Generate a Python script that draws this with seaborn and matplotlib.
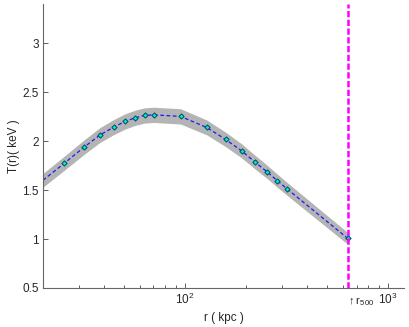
import numpy as np
import pandas as pd
import seaborn as sns
import matplotlib.pyplot as plt
from matplotlib.ticker import LogLocator, NullFormatter, FixedLocator

# radius (kpc) and temperature (keV)
r_kpc = [20.0, 25.4, 31.9, 38.1, 44.6, 50.8, 56.9, 63.3, 70.2, 95.2,
         127.9, 158.6, 190.8, 222.0, 253.5, 285.6, 318.4, 632.7]
t_kev = [1.60, 1.772, 1.939, 2.061, 2.143, 2.201, 2.238, 2.262, 2.268, 2.252,
         2.140, 2.017, 1.898, 1.783, 1.687, 1.594, 1.512, 1.007]
t_err = [0.07, 0.072, 0.074, 0.076, 0.077, 0.078, 0.078, 0.078, 0.078, 0.078,
         0.076, 0.074, 0.072, 0.070, 0.068, 0.067, 0.066, 0.06]
has_marker = [False] + [True] * 17
r500 = 632.7

yticks = [0.5, 1, 1.5, 2, 2.5, 3]
ytick_labels = ['0.5', '1', '1.5', '2', '2.5', '3']

df = pd.DataFrame({'r': r_kpc, 'T': t_kev, 'err': t_err, 'mark': has_marker})

sns.set_style('white')
plt.rcParams['font.family'] = ['Liberation Sans', 'DejaVu Sans']
plt.rcParams['mathtext.fontset'] = 'custom'
plt.rcParams['mathtext.rm'] = 'Liberation Sans'

fig = plt.figure(figsize=(4.09, 3.27), dpi=100)
ax = fig.add_axes([0.1051, 0.1193, 0.8829, 0.8685])

# error band
ax.fill_between(df['r'], df['T'] - df['err'], df['T'] + df['err'],
                color='#b4b4b4', linewidth=0, zorder=1)
# dashed profile line
sns.lineplot(data=df, x='r', y='T', ax=ax, color='#1a1aff', linewidth=0.9,
             linestyle=(0, (3, 2)), zorder=2)
# data points
sns.scatterplot(data=df[df['mark']], x='r', y='T', ax=ax, marker='D', s=7,
                color='#00e5e5', edgecolor='#005050', linewidth=0.7, zorder=3)

# r500 line
ax.axvline(r500, color='#ff00ff', linewidth=1.8, linestyle=(0, (2.5, 1)), zorder=4)

ax.set_xscale('log')
ax.set_xlim(20, 1200)
ax.set_ylim(0.5, 3.4)
ax.set_yticks(yticks)
ax.set_yticklabels(ytick_labels)
ax.xaxis.set_major_locator(FixedLocator([100, 1000]))
ax.xaxis.set_minor_locator(LogLocator(base=10, subs=np.arange(2, 10)))
ax.xaxis.set_minor_formatter(NullFormatter())

ax.set_xlabel('r ( kpc )', fontsize=8.5, labelpad=3)
ax.set_ylabel('T(r)( keV )', fontsize=8.5, labelpad=2)
ax.tick_params(axis='both', which='both', direction='in', labelsize=8.5,
               color='#444444', width=0.6, bottom=True, left=True)
ax.tick_params(axis='both', which='major', length=3.5, pad=3)
ax.tick_params(axis='x', which='minor', length=2)

for side in ['top', 'right']:
    ax.spines[side].set_visible(False)
for side in ['left', 'bottom']:
    ax.spines[side].set_color('#666666')
    ax.spines[side].set_linewidth(0.8)

ax.text(r500 * 0.985, -0.025, r'$\uparrow$r$_{500}$', transform=ax.get_xaxis_transform(),
        ha='left', va='top', fontsize=8)

fig.savefig('out.png', dpi=100)
